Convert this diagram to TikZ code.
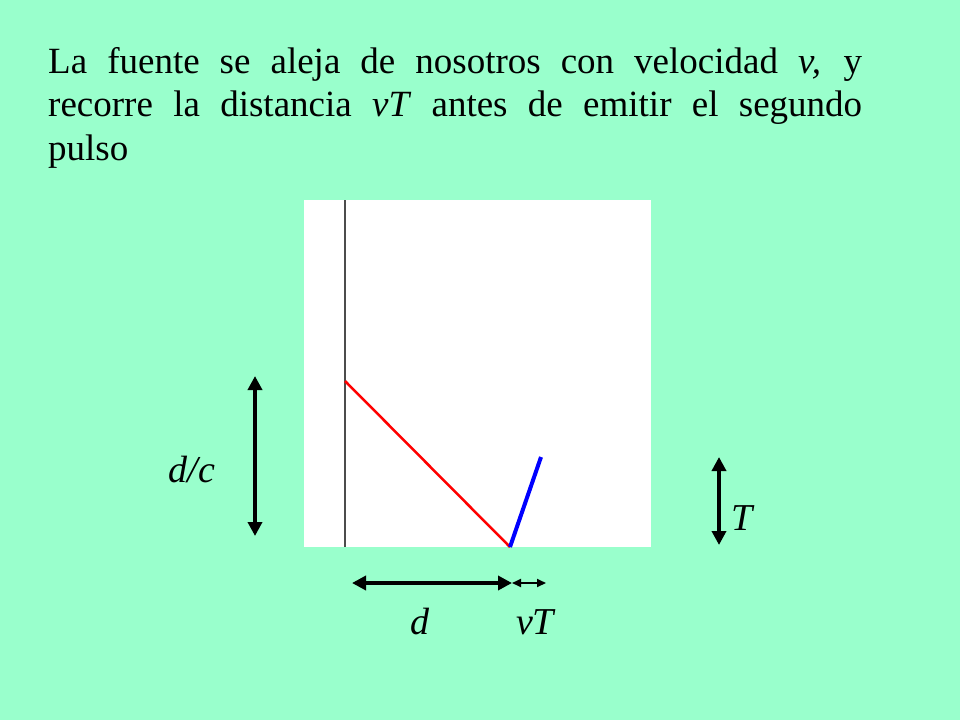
\documentclass[tikz,border=0pt]{standalone}
\usepackage{fontspec}
\setmainfont{Liberation Serif}
\usetikzlibrary{arrows.meta}
\definecolor{bg}{RGB}{153,255,204}
\begin{document}
\begin{tikzpicture}[x=1pt,y=-1pt,
  dimarrow/.style={line width=3.5pt,{Triangle[width=14pt,length=14pt]}-{Triangle[width=14pt,length=14pt]}},
  thinarrow/.style={line width=1.8pt,{Triangle[width=8pt,length=9pt]}-{Triangle[width=8pt,length=9pt]}},
  lbl/.style={font=\fontsize{38}{44}\selectfont\itshape, inner sep=0pt}]
\fill[bg] (0,0) rectangle (960,720);
\useasboundingbox (0,0) rectangle (960,720);
\node[anchor=north west, text width=814pt, align=justify, inner sep=0pt, font=\fontsize{37}{43.5}\selectfont] (title) at (48,47)
 {La fuente se aleja de nosotros con velocidad \textit{v,} y\linebreak recorre la distancia \textit{vT} antes de emitir el segundo\linebreak pulso};
\fill[white] (304,200) rectangle (651,547);
\coordinate (lt) at (345,200);
\coordinate (lb) at (345,547);
\coordinate (r1) at (345,381);
\coordinate (s) at (510,547);
\coordinate (b2) at (541,457);
\draw[line width=1.2pt, black!70] (lt) -- (lb);
\draw[red, line width=2.5pt] (r1) -- (s);
\draw[blue, line width=4pt] (s) -- (b2);
\coordinate (dcT) at (255,376); \coordinate (dcB) at (255,536);
\draw[dimarrow] (dcT) -- (dcB);
\node[lbl] (dc) at (192,470) {d/c};
\coordinate (tT) at (719,457); \coordinate (tB) at (719,545);
\draw[dimarrow] (tT) -- (tB);
\node[lbl] (T) at (742,518) {T};
\coordinate (dL) at (352,583); \coordinate (dR) at (512,583); \coordinate (vR) at (546,583);
\draw[dimarrow] (dL) -- (dR);
\draw[thinarrow] (dR) -- (vR);
\node[lbl] (d) at (420,622) {d};
\node[lbl] (vT) at (535,622) {vT};
\end{tikzpicture}
\end{document}
